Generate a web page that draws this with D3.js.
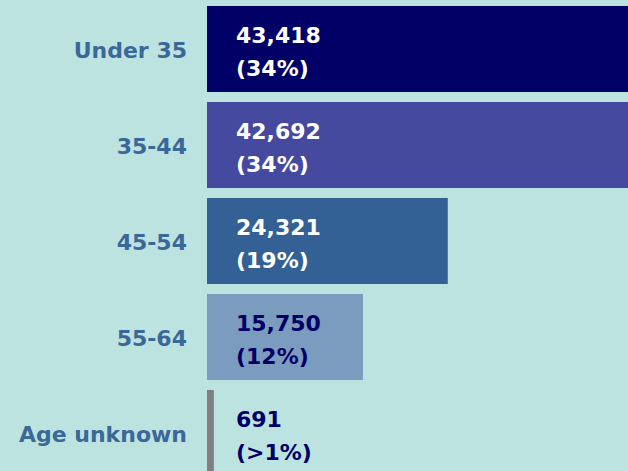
<!DOCTYPE html>
<html>
<head>
<meta charset="utf-8">
<script src="https://cdn.jsdelivr.net/npm/d3@7"></script>
<style>
  body { margin: 0; background: #bde3e0; }
  svg { display: block; }
</style>
</head>
<body>
<script>
// data
const categories = ["Under 35", "35-44", "45-54", "55-64", "Age unknown"];
const counts = [43418, 42692, 24321, 15750, 691];
const shares = ["(34%)", "(34%)", "(19%)", "(12%)", "(>1%)"];
const barColors = ["#000066", "#454a9f", "#336195", "#7b9bbf", "#7f7f7f"];
const valueColors = ["#ffffff", "#ffffff", "#ffffff", "#000066", "#000066"];

const width = 628, height = 471;
const font = "'DejaVu Sans', Verdana, sans-serif";

const svg = d3.select("body").append("svg")
   .attr("width", width)
   .attr("height", height);

svg.append("rect")
   .attr("width", width)
   .attr("height", height)
   .attr("fill", "#bde3e0");

const x = d3.scaleLinear()
   .domain([0, 50000])
   .range([207, 702]);

const y = d3.scaleBand()
   .domain(categories)
   .range([1, 481])
   .paddingInner(0.104)
   .paddingOuter(0.052);

const rows = categories.map((c, i) => ({
  cat: c, n: counts[i], share: shares[i], color: barColors[i], tcolor: valueColors[i]
}));

// bars
svg.selectAll("rect.bar")
   .data(rows)
   .enter()
   .append("rect")
   .attr("class", "bar")
   .attr("x", x(0))
   .attr("y", d => y(d.cat))
   .attr("width", d => x(d.n) - x(0))
   .attr("height", y.bandwidth())
   .attr("fill", d => d.color);

// category labels
svg.selectAll("text.cat")
   .data(rows)
   .enter()
   .append("text")
   .attr("class", "cat")
   .attr("x", x(0) - 20)
   .attr("y", d => y(d.cat) + y.bandwidth() / 2 + 9)
   .attr("text-anchor", "end")
   .style("font-family", font)
   .style("font-weight", "bold")
   .style("font-size", "22px")
   .style("fill", "#3a6898")
   .text(d => d.cat);

// value labels, two lines
const vals = svg.selectAll("text.val")
   .data(rows)
   .enter()
   .append("text")
   .attr("class", "val")
   .attr("x", x(0) + 29)
   .attr("y", d => y(d.cat) + 37)
   .style("font-family", font)
   .style("font-weight", "bold")
   .style("font-size", "22px")
   .style("fill", d => d.tcolor);

vals.append("tspan")
   .attr("x", x(0) + 29)
   .text(d => d3.format(",")(d.n));

vals.append("tspan")
   .attr("x", x(0) + 29)
   .attr("dy", 33)
   .text(d => d.share);
</script>
</body>
</html>
